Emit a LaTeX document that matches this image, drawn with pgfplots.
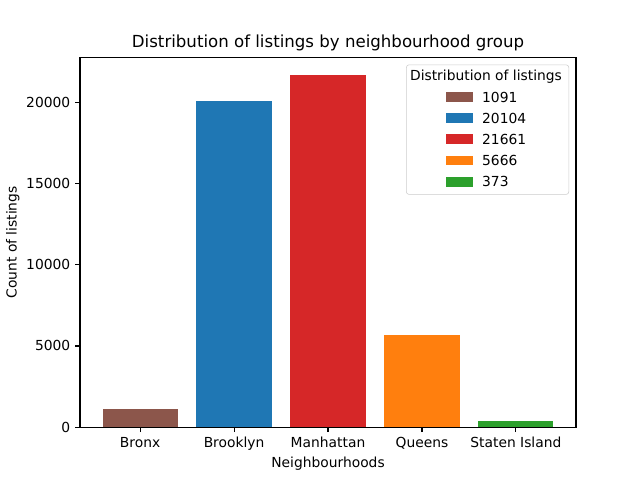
\documentclass[border=0pt]{standalone}
\usepackage{fontspec}
\setmainfont{DejaVu Sans}
\usepackage{pgfplots}
\pgfplotsset{compat=1.18}
\definecolor{cbrown}{HTML}{8C564B}
\definecolor{cblue}{HTML}{1F77B4}
\definecolor{cred}{HTML}{D62728}
\definecolor{corange}{HTML}{FF7F0E}
\definecolor{cgreen}{HTML}{2CA02C}
\begin{document}
\begin{tikzpicture}
\path[use as bounding box] (-0.8in,-0.528in) rectangle (5.6in,4.272in);
\begin{axis}[
  at={(0,0)}, anchor=south west,
  width=4.96in, height=3.696in, scale only axis,
  xmin=-0.64, xmax=4.64, ymin=0, ymax=22744,
  ybar, bar width=0.8, bar shift=0pt,
  xtick={0,1,2,3,4},
  xticklabels={Bronx,Brooklyn,Manhattan,Queens,Staten Island},
  ytick={0,5000,10000,15000,20000},
  /pgf/number format/assume math mode=true,
  /pgf/number format/set thousands separator={},
  scaled y ticks=false,
  tick align=outside, major tick length=3.5pt,
  tick style={black, line width=0.8pt},
  tick pos=left,
  axis line style={line width=0.8pt},
  ticklabel style={font=\fontsize{10}{12}\selectfont},
  title={Distribution of listings by neighbourhood group},
  title style={font=\fontsize{12}{14}\selectfont, yshift=-5pt},
  xlabel={Neighbourhoods}, ylabel={Count of listings},
  label style={font=\fontsize{10}{12}\selectfont},
  xlabel style={yshift=2pt},
  ylabel style={yshift=-2pt},
  legend style={at={(1,1)}, anchor=north east, xshift=-5pt, yshift=-5pt,
    draw=black!20, rounded corners=2pt, fill=white, fill opacity=0.8, text opacity=1,
    font=\fontsize{10}{12}\selectfont, row sep=2.4pt, inner xsep=3pt},
  legend cell align=left,
  legend image code/.code={\path (0,0) (1.75cm,0);
    \fill[#1, sharp corners, fill opacity=1] (0.9cm,-0.1cm) rectangle (1.6cm,0.15cm);},
]
\addlegendimage{empty legend}
\addlegendentry{\hspace{-1.83cm}Distribution of listings}
\addplot[fill=cbrown, draw=none] coordinates {(0,1091)};
\addlegendentry{1091}
\addplot[fill=cblue, draw=none] coordinates {(1,20104)};
\addlegendentry{20104}
\addplot[fill=cred, draw=none] coordinates {(2,21661)};
\addlegendentry{21661}
\addplot[fill=corange, draw=none] coordinates {(3,5666)};
\addlegendentry{5666}
\addplot[fill=cgreen, draw=none] coordinates {(4,373)};
\addlegendentry{373}
\end{axis}
\end{tikzpicture}
\end{document}
